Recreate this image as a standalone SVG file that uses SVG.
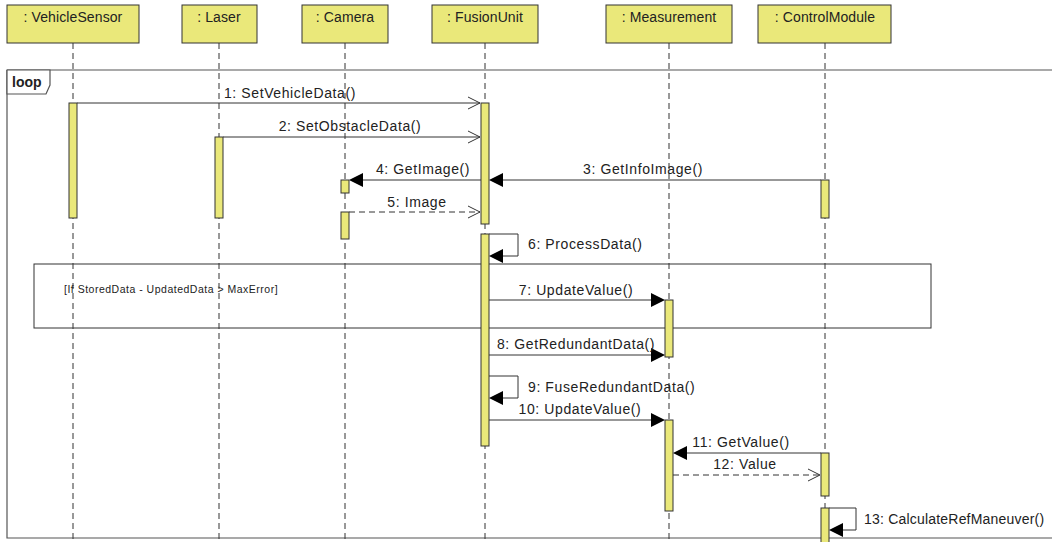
<svg xmlns="http://www.w3.org/2000/svg" width="1052" height="542" viewBox="0 0 1052 542">
<style>
.hdr{fill:#EAE87A;stroke:#333;stroke-width:1}
.ht{font-family:"Liberation Sans",Arial,sans-serif;font-size:14px;letter-spacing:0.1px;fill:#222;text-anchor:middle}
.life{stroke:#333;stroke-width:1;stroke-dasharray:6,4;fill:none}
.act{fill:#EAE87A;stroke:#333;stroke-width:1}
.frame{fill:none;stroke:#555;stroke-width:1.2}
.msg{stroke:#333;stroke-width:1;fill:none}
.dash{stroke-dasharray:6,4}
.lt{font-family:"Liberation Sans",Arial,sans-serif;font-size:14px;letter-spacing:0.6px;fill:#222;text-anchor:middle}
.ls{font-family:"Liberation Sans",Arial,sans-serif;font-size:14px;letter-spacing:0.6px;fill:#222}
.fill{fill:#000;stroke:none}
.open{fill:none;stroke:#333;stroke-width:1}
</style>
<rect width="1052" height="542" fill="#fff"/>
<g id="frames">
<path class="frame" d="M7,70 H1052 M7,70 V538 H1052"/>
<path d="M7,70 H50 V85 L46,94 H7 Z" fill="#fff" stroke="#555" stroke-width="1.2"/>
<text x="12" y="87" style="font-family:'Liberation Sans',Arial,sans-serif;font-size:14px;font-weight:bold;fill:#222">loop</text>
<rect x="34" y="264" width="897" height="64" fill="none" stroke="#333" stroke-width="1"/>
<text x="64" y="293" style="font-family:'Liberation Sans',Arial,sans-serif;font-size:10.5px;letter-spacing:0.5px;fill:#222">[If StoredData - UpdatedData &gt; MaxError]</text>
</g>
<g id="lifelines">
<line class="life" x1="73" y1="43" x2="73" y2="542"/>
<line class="life" x1="219" y1="43" x2="219" y2="542"/>
<line class="life" x1="345" y1="43" x2="345" y2="542"/>
<line class="life" x1="485" y1="43" x2="485" y2="542"/>
<line class="life" x1="669" y1="43" x2="669" y2="542"/>
<line class="life" x1="825" y1="43" x2="825" y2="542"/>
</g>
<g id="n_vehiclesensor"><rect class="hdr" x="7" y="5" width="132" height="38"/><text class="ht" x="73" y="22">: VehicleSensor</text></g>
<g id="n_laser"><rect class="hdr" x="182" y="5" width="75" height="38"/><text class="ht" x="219" y="22">: Laser</text></g>
<g id="n_camera"><rect class="hdr" x="302" y="5" width="86" height="38"/><text class="ht" x="345" y="22">: Camera</text></g>
<g id="n_fusionunit"><rect class="hdr" x="432" y="5" width="106" height="38"/><text class="ht" x="485" y="22">: FusionUnit</text></g>
<g id="n_measurement"><rect class="hdr" x="606" y="5" width="126" height="38"/><text class="ht" x="669" y="22">: Measurement</text></g>
<g id="n_controlmodule"><rect class="hdr" x="758" y="5" width="133" height="38"/><text class="ht" x="825" y="22">: ControlModule</text></g>
<g id="activations">
<rect class="act" x="69" y="103" width="8" height="115"/>
<rect class="act" x="215" y="137" width="8" height="81"/>
<rect class="act" x="341" y="180" width="8" height="13"/>
<rect class="act" x="341" y="212" width="8" height="27"/>
<rect class="act" x="481" y="103" width="8" height="121"/>
<rect class="act" x="481" y="234" width="8" height="212"/>
<rect class="act" x="665" y="300" width="8" height="57"/>
<rect class="act" x="665" y="420" width="8" height="91"/>
<rect class="act" x="821" y="180" width="8" height="38"/>
<rect class="act" x="821" y="453" width="8" height="43"/>
<rect class="act" x="821" y="508" width="8" height="40"/>
</g>
<g id="connectors">
<line class="msg" x1="77" y1="103" x2="480" y2="103"/><path class="open" d="M468,97 L480,103 L468,109"/>
<text class="lt" x="290" y="98">1: SetVehicleData()</text>
<line class="msg" x1="223" y1="137" x2="480" y2="137"/><path class="open" d="M468,131 L480,137 L468,143"/>
<text class="lt" x="350" y="131">2: SetObstacleData()</text>
<line class="msg" x1="821" y1="180" x2="492" y2="180"/><path class="fill" d="M489,180 L503,173 L503,187 Z"/>
<text class="lt" x="643" y="174">3: GetInfoImage()</text>
<line class="msg" x1="481" y1="180" x2="352" y2="180"/><path class="fill" d="M349,180 L363,173 L363,187 Z"/>
<text class="lt" x="423" y="174">4: GetImage()</text>
<line class="msg dash" x1="349" y1="212" x2="480" y2="212"/><path class="open" d="M468,206 L480,212 L468,218"/>
<text class="lt" x="417" y="207">5: Image</text>
<path class="msg" d="M489,234 H518 V256 H492"/><path class="fill" d="M489,256 L503,249 L503,263 Z"/>
<text class="ls" x="528" y="249">6: ProcessData()</text>
<line class="msg" x1="489" y1="300" x2="662" y2="300"/><path class="fill" d="M665,300 L651,293 L651,307 Z"/>
<text class="lt" x="576" y="295">7: UpdateValue()</text>
<line class="msg" x1="489" y1="355" x2="662" y2="355"/><path class="fill" d="M665,355 L651,348 L651,362 Z"/>
<text class="lt" x="576" y="349">8: GetRedundantData()</text>
<path class="msg" d="M489,376 H518 V398 H492"/><path class="fill" d="M489,398 L503,391 L503,405 Z"/>
<text class="ls" x="528" y="392">9: FuseRedundantData()</text>
<line class="msg" x1="489" y1="420" x2="662" y2="420"/><path class="fill" d="M665,420 L651,413 L651,427 Z"/>
<text class="lt" x="580" y="414">10: UpdateValue()</text>
<line class="msg" x1="821" y1="453" x2="676" y2="453"/><path class="fill" d="M673,453 L687,446 L687,460 Z"/>
<text class="lt" x="741" y="447">11: GetValue()</text>
<line class="msg dash" x1="673" y1="475" x2="820" y2="475"/><path class="open" d="M808,469 L820,475 L808,481"/>
<text class="lt" x="745" y="469">12: Value</text>
<path class="msg" d="M829,508 H856 V530 H832"/><path class="fill" d="M829,530 L843,523 L843,537 Z"/>
<text class="ls" x="864" y="524" style="letter-spacing:0.2px">13: CalculateRefManeuver()</text>
</g>
</svg>
